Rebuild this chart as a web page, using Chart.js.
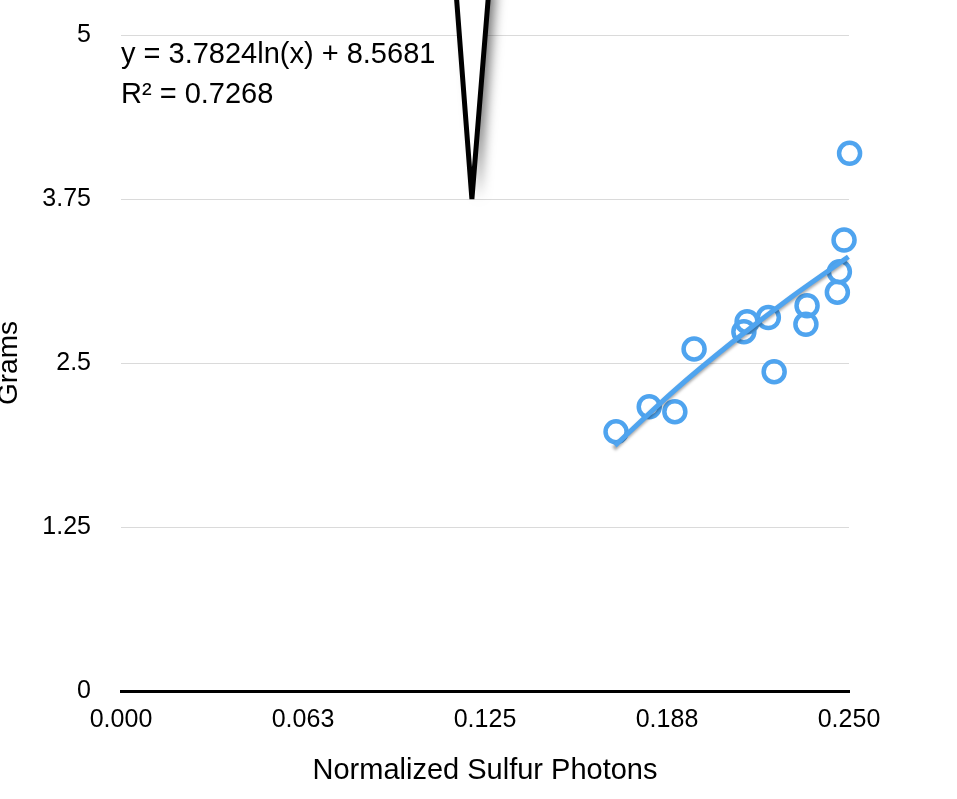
<!DOCTYPE html>
<html>
<head>
<meta charset="utf-8">
<script src="https://cdn.jsdelivr.net/npm/chart.js@4/dist/chart.umd.min.js"></script>
<style>
  html, body { margin: 0; padding: 0; background: #fff; }
  #wrap { width: 957px; height: 799px; position: relative; overflow: hidden; }
</style>
</head>
<body>
<div id="wrap"><canvas id="c" width="957" height="799"></canvas></div>
<script>
// ---- data ----
const photonsX = [0.1700, 0.1814, 0.1902, 0.1968, 0.2139, 0.2150, 0.2223, 0.2243, 0.2352, 0.2356, 0.2460, 0.2467, 0.2483, 0.2502];
const gramsY   = [1.976, 2.167, 2.129, 2.607, 2.739, 2.815, 2.846, 2.434, 2.795, 2.937, 3.039, 3.196, 3.437, 4.098];
const trendX   = [0.1696, 0.1900, 0.2100, 0.2300, 0.2498];
const trendY   = [1.87, 2.29, 2.66, 3.00, 3.31];
const xTickValues = [0, 0.0625, 0.125, 0.1875, 0.25];
const xTickLabels = ['0.000', '0.063', '0.125', '0.188', '0.250'];
const yTickValues = [0, 1.25, 2.5, 3.75, 5];
const yTickLabels = ['0', '1.25', '2.5', '3.75', '5'];
const equationLines = ['y = 3.7824ln(x) + 8.5681', 'R\u00B2 = 0.7268'];
const xTitle = 'Normalized Sulfur Photons';
const yTitle = 'Grams';
const calloutTip = { x: 0.1205, y: 3.75 };

const BLUE = '#4fa4ef';
const FONT = '"Liberation Sans", Arial, Helvetica, sans-serif';

const scatterPts = photonsX.map((x, i) => ({ x: x, y: gramsY[i] }));
const trendPts = trendX.map((x, i) => ({ x: x, y: trendY[i] }));

const extras = {
  id: 'extras',
  beforeDatasetDraw(chart, args) {
    if (args.index === 0) {
      const ctx = chart.ctx;
      ctx.save();
      ctx.shadowColor = 'rgba(0,0,0,0.35)';
      ctx.shadowBlur = 3;
      ctx.shadowOffsetX = -1;
      ctx.shadowOffsetY = 3;
    }
  },
  afterDatasetDraw(chart, args) {
    if (args.index === 0) chart.ctx.restore();
  },
  afterDraw(chart) {
    const ctx = chart.ctx;
    const xs = chart.scales.x, ys = chart.scales.y;
    const area = chart.chartArea;
    // equation text
    ctx.save();
    ctx.fillStyle = '#000';
    ctx.font = '29px ' + FONT;
    ctx.textAlign = 'left';
    ctx.textBaseline = 'middle';
    ctx.fillText(equationLines[0], area.left, 55);
    ctx.fillText(equationLines[1], area.left, 95);
    ctx.restore();
    // callout pointer
    const tx = xs.getPixelForValue(calloutTip.x);
    const ty = ys.getPixelForValue(calloutTip.y);
    ctx.save();
    ctx.beginPath();
    ctx.moveTo(tx - 16, -10);
    ctx.lineTo(tx, ty);
    ctx.lineTo(tx + 17, -10);
    ctx.closePath();
    ctx.shadowColor = 'rgba(0,0,0,0.55)';
    ctx.shadowBlur = 12;
    ctx.shadowOffsetX = 7;
    ctx.shadowOffsetY = 0;
    ctx.fillStyle = '#fff';
    ctx.fill();
    ctx.shadowColor = 'rgba(0,0,0,0)';
    ctx.lineWidth = 5;
    ctx.lineJoin = 'miter';
    ctx.strokeStyle = '#000';
    ctx.stroke();
    ctx.restore();
  }
};

new Chart(document.getElementById('c'), {
  data: {
    datasets: [
      {
        type: 'line',
        data: trendPts,
        borderColor: BLUE,
        borderWidth: 5,
        pointRadius: 0,
        fill: false,
        tension: 0.3,
        clip: false
      },
      {
        type: 'scatter',
        data: scatterPts,
        borderColor: BLUE,
        backgroundColor: 'rgba(255,255,255,0)',
        borderWidth: 4.5,
        pointRadius: 10.5,
        pointHoverRadius: 10.5,
        clip: false
      }
    ]
  },
  options: {
    responsive: false,
    animation: false,
    events: [],
    layout: { padding: { top: 35, right: 108, bottom: 0, left: 0 } },
    plugins: { legend: { display: false }, tooltip: { enabled: false } },
    scales: {
      x: {
        type: 'linear',
        min: 0, max: 0.25,
        afterBuildTicks(scale) { scale.ticks = xTickValues.map(v => ({ value: v })); },
        afterFit(scale) { scale.height = 108; scale.paddingLeft = 0; scale.paddingRight = 0; },
        grid: { display: false, drawTicks: false },
        border: { display: true, color: '#000', width: 3 },
        ticks: {
          padding: 14,
          color: '#000',
          font: { family: FONT, size: 25 },
          maxRotation: 0,
          autoSkip: false,
          callback(value, index) { return xTickLabels[index]; }
        },
        title: {
          display: true,
          text: xTitle,
          color: '#000',
          font: { family: FONT, size: 29 },
          padding: { top: 0, bottom: 11 }
        }
      },
      y: {
        type: 'linear',
        min: 0, max: 5,
        afterBuildTicks(scale) { scale.ticks = yTickValues.map(v => ({ value: v })); },
        afterFit(scale) { scale.width = 121; scale.paddingTop = 0; scale.paddingBottom = 0; },
        grid: {
          drawTicks: false,
          color(ctx) { return ctx.tick && ctx.tick.value === 0 ? 'rgba(0,0,0,0)' : '#dadada'; },
          lineWidth: 1
        },
        border: { display: false },
        ticks: {
          padding: 30,
          color: '#000',
          font: { family: FONT, size: 25 },
          autoSkip: false,
          callback(value, index) { return yTickLabels[index]; }
        },
        title: {
          display: true,
          text: yTitle,
          color: '#000',
          font: { family: FONT, size: 28 },
          padding: { top: -8, bottom: 0 }
        }
      }
    }
  },
  plugins: [extras]
});
</script>
</body>
</html>
